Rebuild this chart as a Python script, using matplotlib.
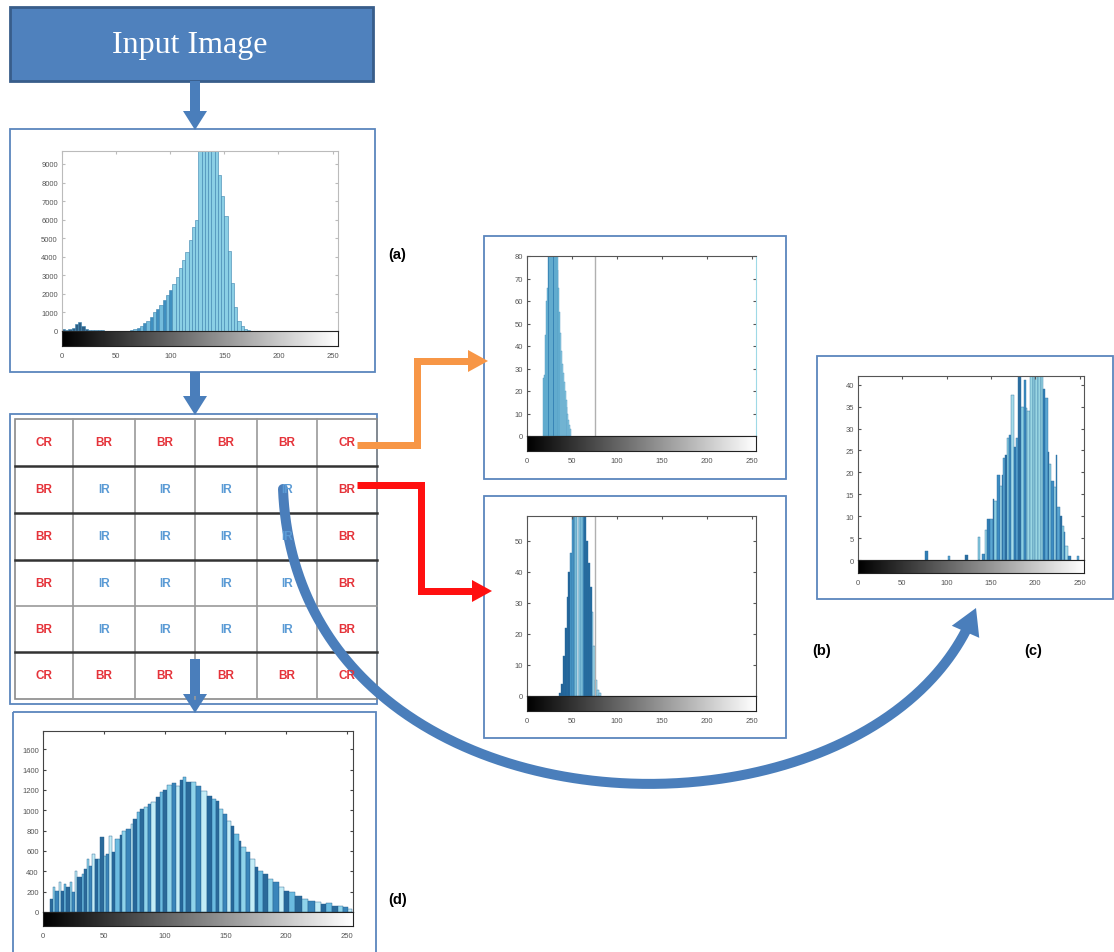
import numpy as np
import matplotlib
matplotlib.use("Agg")
import matplotlib.pyplot as plt
from matplotlib.patches import Rectangle, Polygon

# ---------------------------------------------------------------- data
# (a) histogram of the input image (gray level, pixel count), 3-level bins
a_levels = list(range(0, 172, 3))
a_counts = [100, 60, 90, 180, 380, 480, 260, 100, 40, 30, 40, 50, 30, 20, 10,
            5, 5, 5, 5, 10, 20, 40, 90, 160, 290, 420, 560, 780, 1010, 1200,
            1410, 1650, 1920, 2190, 2550, 2920, 3420, 3820, 4280, 4910, 5630,
            6000, 10200, 10800, 11200, 11000, 10600, 10000, 8400, 7300, 6200,
            4300, 2600, 1300, 560, 290, 130, 30]

# (b) corner-region histogram (CR)
cr_levels = list(range(18, 49))
cr_counts = [26, 27, 45, 60, 66, 92, 98, 95, 100, 96, 99, 97, 95, 92, 88, 90,
             74, 66, 55, 46, 38, 32, 28, 24, 20, 16, 13, 10, 7, 5, 3]

# (b) border-region histogram (BR)
br_levels = list(range(36, 81, 2))
br_counts = [1, 4, 13, 22, 32, 40, 46, 62, 70, 75, 80, 78, 76, 72, 64, 50, 43,
             35, 27, 16, 5, 2, 1]

# (c) inner-region histogram (IR)
ir_levels = [76, 101, 121, 135, 140, 143, 146, 149, 152, 154, 157, 160, 162,
             164, 166, 168, 170, 173, 176, 178, 181, 184, 187, 189, 191, 194,
             197, 200, 203, 206, 209, 211, 214, 216, 218, 221, 223, 225, 228,
             230, 232, 234, 237, 247]
ir_counts = [2, 1, 1.2, 5.2, 1.4, 6.9, 9.3, 9.3, 14, 13.5, 19.5, 17, 19.5,
             23.3, 24, 27.9, 28.6, 37.6, 25.8, 27.9, 45, 35, 41, 34.7, 34, 45,
             44, 46, 45, 43, 39, 37, 24.7, 21.8, 18, 16.6, 24, 12, 10, 7.7,
             6.3, 3.2, 1, 1]

# (d) histogram of the enhanced output image
d_levels = [6, 8, 10, 13, 15, 17, 19, 22, 24, 26, 28, 32, 34, 36, 38, 40, 43,
            45, 47, 50, 52, 54, 57, 59, 63, 65, 68, 72, 74, 77, 80, 83, 86, 89,
            93, 96, 99, 102, 106, 109, 113, 115, 118, 122, 126, 130, 135, 139,
            142, 145, 148, 151, 155, 157, 161, 163, 167, 170, 174, 177, 181,
            185, 189, 194, 198, 202, 207, 213, 218, 224, 229, 233, 238, 243,
            247, 251]
d_counts = [128, 249, 210, 292, 210, 275, 243, 298, 193, 407, 341, 374, 423,
            521, 456, 570, 521, 521, 734, 547, 570, 750, 587, 718, 757, 800,
            816, 865, 915, 980, 1013, 1030, 1062, 1079, 1128, 1177, 1203, 1249,
            1269, 1236, 1302, 1325, 1275, 1275, 1242, 1193, 1144, 1111, 1095,
            1013, 964, 898, 849, 767, 702, 636, 587, 521, 440, 407, 374, 325,
            292, 243, 210, 193, 161, 128, 112, 95, 79, 89, 62, 56, 46, 30]

gray_ticks = [0, 50, 100, 150, 200, 250]
a_yticks = list(range(0, 9001, 1000))
cr_yticks = list(range(0, 81, 10))
br_yticks = list(range(0, 51, 10))
ir_yticks = list(range(0, 41, 5))
d_yticks = list(range(0, 1601, 200))

grid_labels = [["CR", "BR", "BR", "BR", "BR", "CR"],
               ["BR", "IR", "IR", "IR", "IR", "BR"],
               ["BR", "IR", "IR", "IR", "IR", "BR"],
               ["BR", "IR", "IR", "IR", "IR", "BR"],
               ["BR", "IR", "IR", "IR", "IR", "BR"],
               ["CR", "BR", "BR", "BR", "BR", "CR"]]

# ---------------------------------------------------------------- figure
W, H = 1114, 953
fig = plt.figure(figsize=(W / 100, H / 100), dpi=100)
fig.patch.set_facecolor("white")
SANS = ["Liberation Sans", "DejaVu Sans"]


def px_axes(x0, y0, x1, y1, z=1):
    return fig.add_axes([x0 / W, 1 - y1 / H, (x1 - x0) / W, (y1 - y0) / H],
                        zorder=z)


def histogram(box, levels, counts, widths, colors, ymax, yticks,
              edge="#3d83ad", elw=0.4, spine="#555", align="center"):
    x0, ytop, x1, yzero, ycb = box
    ax = px_axes(x0, ytop, x1, yzero)
    ax.bar(levels, counts, width=widths, color=colors, edgecolor=edge,
           linewidth=elw, align=align)
    ax.set_xlim(0, 255)
    ax.set_ylim(0, ymax)
    ax.set_yticks(yticks)
    ax.set_yticklabels([str(v) for v in yticks], family=SANS)
    ax.set_xticks(gray_ticks)
    ax.tick_params(axis="x", bottom=False, top=True, labelbottom=False,
                   length=2, direction="in", color=spine)
    ax.tick_params(axis="y", left=True, right=True, length=2, direction="in",
                   labelsize=5.5, labelcolor="#555", color=spine, pad=3)
    for s in ax.spines.values():
        s.set_color(spine)
        s.set_linewidth(0.8)
    cax = px_axes(x0, yzero, x1, ycb)
    cax.imshow(np.linspace(0, 1, 256)[None, :], cmap="gray", aspect="auto",
               extent=[0, 255, 0, 1], interpolation="bilinear")
    cax.set_xlim(0, 255)
    cax.set_yticks([])
    cax.set_xticks(gray_ticks)
    cax.set_xticklabels([str(v) for v in gray_ticks], family=SANS)
    cax.tick_params(axis="x", length=0, labelsize=5.5, labelcolor="#555", pad=4)
    for s in cax.spines.values():
        s.set_color("#222")
        s.set_linewidth(0.8)
    return ax


# (a) input histogram
a_cols = []
for i, lv in enumerate(a_levels):
    if lv < 60:
        a_cols.append("#2d5f86")
    elif lv < 100:
        a_cols.append("#3f8fc0" if i % 2 else "#74bcdc")
    else:
        a_cols.append("#8bcfe5")
ax_a = histogram((62, 152, 338, 332, 347), a_levels, a_counts, 3, a_cols,
                 9700, a_yticks, edge="#3b82ad", spine="#bbbbbb", align="edge")

# (b) corner region
cr_cols = ["#2676ad" if lv in (23, 29) else ("#9fd8ea" if lv > 36 else "#7ec7e0")
           for lv in cr_levels]
ax_cr = histogram((527, 257, 756, 437, 452), cr_levels, cr_counts, 1, cr_cols,
                  80, cr_yticks, edge="#4b95bf", elw=0.3, align="edge")
ax_cr.axvline(76, color="#b0b0b0", lw=1.0)
ax_cr.spines["right"].set_color("#9ed9e6")

# (b) border region
br_band = [(40, "#1f5f94"), (48, "#1f6399"), (52, "#4a9bcb"), (56, "#8ccfe6"),
           (58, "#d6eff7"), (62, "#8ccfe6"), (64, "#4a9bcb"), (72, "#236a9e"),
           (999, "#a8e0ef")]
br_cols = [next(c for lim, c in br_band if lv < lim) for lv in br_levels]
ax_br = histogram((527, 517, 756, 697, 712), br_levels, br_counts, 2, br_cols,
                  58, br_yticks, edge="#2f6f9f", elw=0.3, align="edge")
ax_br.axvline(76, color="#b0b0b0", lw=1.0)

# (c) inner region
ir_cycle = ["#2f7db5", "#5aa6d2", "#2a6d9f", "#8ccfe2", "#3c8cc2", "#a5dcea"]
ir_cols = ["#9ad6e3" if 189 <= lv <= 206 else ir_cycle[i % len(ir_cycle)]
           for i, lv in enumerate(ir_levels)]
ir_w = np.minimum(np.diff(ir_levels, append=ir_levels[-1] + 2), 3)
ax_ir = histogram((858, 377, 1084, 561, 574), ir_levels, ir_counts, ir_w,
                  ir_cols, 42, ir_yticks, edge="#2f6f9f", elw=0.3, align="edge")

# (d) output histogram
d_cycle = ["#2b6a9a", "#8fd3ea", "#3a85ba", "#c3ecf6", "#26679a", "#6bbbe0"]
d_cols = [d_cycle[i % len(d_cycle)] for i in range(len(d_levels))]
d_w = np.diff(d_levels, append=d_levels[-1] + 3)
ax_d = histogram((43, 732, 353, 913, 927), d_levels, d_counts, d_w, d_cols,
                 1780, d_yticks, edge="#245f8c", elw=0.3, spine="#444",
                 align="edge")

# ---------------------------------------------------------------- overlay
ov = fig.add_axes([0, 0, 1, 1], zorder=10)
ov.set_xlim(0, W)
ov.set_ylim(H, 0)
ov.axis("off")
ov.patch.set_alpha(0)

BLUE = "#4a7ebb"
ORANGE = "#f79646"
RED = "#ff1010"
FRAME = "#5b86bd"


def frame(x0, y0, x1, y1, color=FRAME, lw=1.3):
    ov.add_patch(Rectangle((x0, y0), x1 - x0, y1 - y0, fill=False, ec=color,
                           lw=lw))


def head(tip, frm, length, width, color):
    tip = np.asarray(tip, float)
    d = tip - np.asarray(frm, float)
    d /= np.hypot(*d)
    n = np.array([-d[1], d[0]])
    base = tip - d * length
    ov.add_patch(Polygon([tip, base + n * width / 2, base - n * width / 2],
                         closed=True, fc=color, ec="none"))


def shaft(points, color, width_px, cap="butt"):
    pts = np.asarray(points, float)
    ov.plot(pts[:, 0], pts[:, 1], color=color, lw=width_px * 0.72,
            solid_capstyle=cap, solid_joinstyle="miter")


# title block
ov.add_patch(Rectangle((10, 8), 363, 74, fc="#4f81bd", ec="#385d8a", lw=2))
ov.text(190, 45, "Input Image", color="white", fontsize=23,
        family=["Liberation Serif", "DejaVu Serif"], ha="center", va="center")

# panel frames
frame(10, 130, 375, 373)
frame(484, 237, 786, 480)
frame(484, 497, 786, 739)
frame(817, 357, 1113, 600)
frame(13, 713, 376, 975)

# region grid
frame(10, 415, 377, 705)
frame(15, 420, 377, 700, color="#8a8a8a", lw=1.2)
col_x = [15, 73, 135, 195, 257, 317, 377]
row_y = [420, 467, 514, 561, 607, 653, 700]
for x in col_x[1:-1]:
    ov.plot([x, x], [420, 700], color="#9a9a9a", lw=1.2)
for y in row_y[1:-1]:
    if y == 607:
        ov.plot([15, 377], [y, y], color="#9a9a9a", lw=1.2)
    else:
        ov.plot([15, 377], [y, y], color="#333333", lw=1.8)
for r, row in enumerate(grid_labels):
    for c, lab in enumerate(row):
        cx = (col_x[c] + col_x[c + 1]) / 2
        cy = (row_y[r] + row_y[r + 1]) / 2
        ov.text(cx, cy, lab, color="#5b9bd5" if lab == "IR" else "#e5333a",
                fontsize=8.5, fontweight="bold", family=SANS,
                ha="center", va="center")

# vertical flow arrows
for y0, y1 in [(82, 131), (373, 416), (660, 714)]:
    shaft([(195, y0), (195, y1 - 17)], BLUE, 10)
    head((195, y1), (195, y0), 19, 24, BLUE)

# corner region -> (b) top
shaft([(357, 446), (417, 446), (417, 362), (470, 362)], ORANGE, 7)
head((488, 362), (417, 362), 20, 22, ORANGE)

# border region -> (b) bottom
shaft([(357, 486), (421, 486), (421, 592), (473, 592)], RED, 7)
head((492, 592), (421, 592), 20, 22, RED)

# inner region -> (c), curved
P = np.array([[283, 490], [298, 855], [880, 865], [976, 609]], float)
t = np.linspace(0, 1, 500)[:, None]
curve = ((1 - t) ** 3 * P[0] + 3 * (1 - t) ** 2 * t * P[1]
         + 3 * (1 - t) * t ** 2 * P[2] + t ** 3 * P[3])
dist = np.hypot(*(curve - P[3]).T)
body = curve[dist >= 22]
shaft(body, BLUE, 10, cap="round")
head(P[3], body[-1], 26, 30, BLUE)

# panel captions
for x, y, s in [(397, 255, "(a)"), (822, 651, "(b)"), (1033, 651, "(c)"),
                (398, 900, "(d)")]:
    ov.text(x, y, s, fontsize=10.5, fontweight="bold", family=SANS,
            ha="center", va="center")

fig.savefig("out.png", dpi=100, facecolor="white")
